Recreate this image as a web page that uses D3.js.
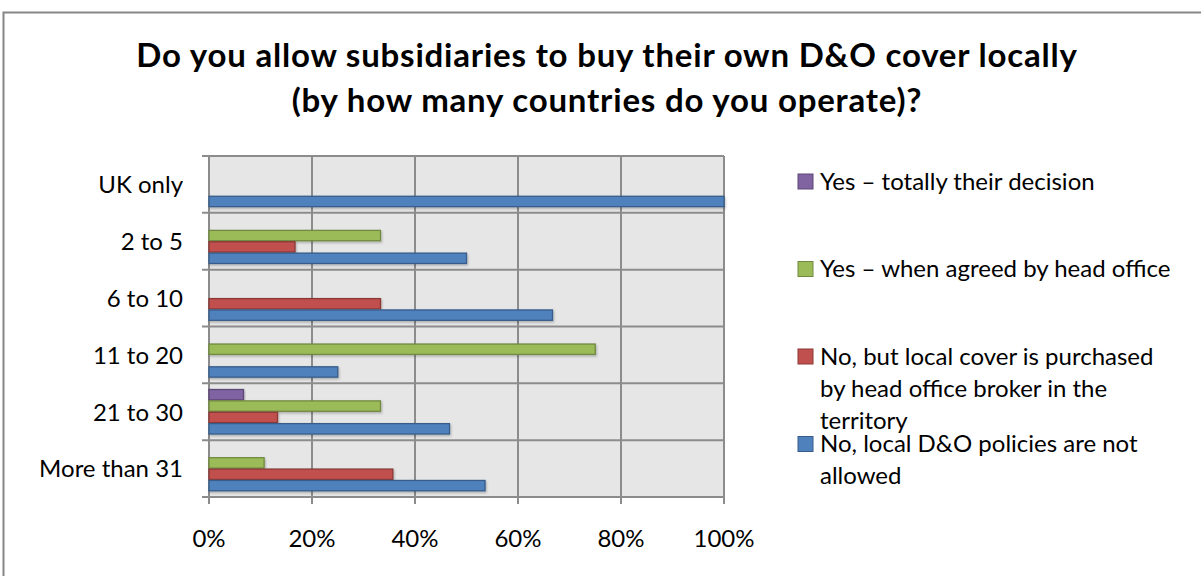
<!DOCTYPE html>
<html>
<head>
<meta charset="utf-8">
<script src="https://cdn.jsdelivr.net/npm/d3@7"></script>
<style>
  body { margin: 0; background: #fff; }
  svg { display: block; }
</style>
</head>
<body>
<div id="chart"></div>
<script>
// chart data (percentages)
const categories = ["UK only", "2 to 5", "6 to 10", "11 to 20", "21 to 30", "More than 31"];
const seriesNames = [
  "Yes \u2013 totally their decision",
  "Yes \u2013 when agreed by head office",
  "No, but local cover is purchased by head office broker in the territory",
  "No, local D&O policies are not allowed"
];
const yesTotally = [0, 0, 0, 0, 6.7, 0];
const yesAgreed = [0, 33.3, 0, 75, 33.3, 10.7];
const noBroker = [0, 16.7, 33.3, 0, 13.3, 35.7];
const noNotAllowed = [100, 50, 66.7, 25, 46.7, 53.6];
const xTicks = [0, 20, 40, 60, 80, 100];

const fills = ["#8064A2", "#9BBB59", "#C0504D", "#4F81BD"];
const strokes = ["#5C4776", "#71893F", "#8C3836", "#385D8A"];
const legendLines = [
  ["Yes \u2013 totally their decision"],
  ["Yes \u2013 when agreed by head office"],
  ["No, but local cover is purchased", "by head office broker in the", "territory"],
  ["No, local D&O policies are not", "allowed"]
];

const allSeries = [yesTotally, yesAgreed, noBroker, noNotAllowed];

const W = 1201, H = 576;
const plotLeft = 209, plotRight = 724, plotTop = 156, plotBottom = 497;
const font = "Lato, 'Open Sans', sans-serif";
const fs = 24;

const svg = d3.select("#chart").append("svg")
  .attr("width", W)
  .attr("height", H)
  .style("font-family", font);

// drop shadow for bars
const defs = svg.append("defs");
const shadow = defs.append("filter").attr("id", "sh")
  .attr("x", "-5%").attr("y", "-30%").attr("width", "110%").attr("height", "170%");
shadow.append("feDropShadow")
  .attr("dx", 1).attr("dy", 1.5).attr("stdDeviation", 0.8)
  .attr("flood-color", "#000").attr("flood-opacity", 0.25);

// chart frame
svg.append("rect")
  .attr("x", 3.5).attr("y", 12.5)
  .attr("width", W + 20).attr("height", H + 20)
  .attr("fill", "#fff")
  .attr("stroke", "#868686").attr("stroke-width", 2);

// title
const title = svg.append("text")
  .attr("text-anchor", "middle")
  .attr("font-weight", "bold")
  .attr("font-size", 33)
  .attr("letter-spacing", 0.8)
  .attr("fill", "#000");
title.append("tspan").attr("x", 607).attr("y", 67)
  .text("Do you allow subsidiaries to buy their own D&O cover locally");
title.append("tspan").attr("x", 607).attr("y", 112)
  .text("(by how many countries do you operate)?");

const x = d3.scaleLinear().domain([0, 100]).range([plotLeft, plotRight]);
const y = d3.scaleBand().domain(categories).range([plotTop, plotBottom]).paddingInner(0);
const ySub = d3.scaleBand().domain(d3.range(4)).range([0, y.bandwidth()]).paddingOuter(0.5).paddingInner(0);

const g = svg.append("g");

// plot background
g.append("rect")
  .attr("x", plotLeft).attr("y", plotTop)
  .attr("width", plotRight - plotLeft).attr("height", plotBottom - plotTop)
  .attr("fill", "#E6E6E6");

const gridColor = "#8C8C8C";

// vertical gridlines
g.selectAll("line.vgrid").data(xTicks).join("line")
  .attr("class", "vgrid")
  .attr("x1", d => x(d)).attr("x2", d => x(d))
  .attr("y1", plotTop).attr("y2", plotBottom + 7)
  .attr("stroke", gridColor).attr("stroke-width", 2);

// horizontal gridlines at category boundaries
const bounds = categories.map(c => y(c)).concat([plotBottom]);
g.selectAll("line.hgrid").data(bounds).join("line")
  .attr("class", "hgrid")
  .attr("x1", plotLeft - 7).attr("x2", plotRight)
  .attr("y1", d => d).attr("y2", d => d)
  .attr("stroke", gridColor).attr("stroke-width", 2);

// bars
const rows = [];
categories.forEach((c, i) => {
  allSeries.forEach((s, k) => {
    if (s[i] > 0) rows.push({ cat: c, k: k, v: s[i] });
  });
});

g.selectAll("rect.bar").data(rows).join("rect")
  .attr("class", "bar")
  .attr("x", x(0))
  .attr("y", d => y(d.cat) + ySub(d.k) + 0.5)
  .attr("width", d => x(d.v) - x(0))
  .attr("height", ySub.bandwidth() - 1)
  .attr("fill", d => fills[d.k])
  .attr("stroke", d => strokes[d.k])
  .attr("stroke-width", 1.3)
  .attr("filter", "url(#sh)");

// category labels
g.selectAll("text.cat").data(categories).join("text")
  .attr("class", "cat")
  .attr("x", 183)
  .attr("y", d => y(d) + y.bandwidth() / 2 + 0.5)
  .attr("dy", "0.35em")
  .attr("text-anchor", "end")
  .attr("font-size", fs)
  .text(d => d);

// x tick labels
g.selectAll("text.xt").data(xTicks).join("text")
  .attr("class", "xt")
  .attr("x", d => x(d))
  .attr("y", 538.5)
  .attr("dy", "0.35em")
  .attr("text-anchor", "middle")
  .attr("font-size", fs)
  .text(d => d + "%");

// legend
const legendY = [181.5, 269, 356.5, 444];
const lg = svg.append("g");
legendLines.forEach((lines, k) => {
  lg.append("rect")
    .attr("x", 798).attr("y", legendY[k] - 7.5)
    .attr("width", 15).attr("height", 15)
    .attr("fill", fills[k])
    .attr("stroke", strokes[k]).attr("stroke-width", 1);
  lines.forEach((t, j) => {
    lg.append("text")
      .attr("x", 820)
      .attr("y", legendY[k] + j * 32)
      .attr("dy", "0.35em")
      .attr("font-size", fs)
      .text(t);
  });
});
</script>
</body>
</html>
